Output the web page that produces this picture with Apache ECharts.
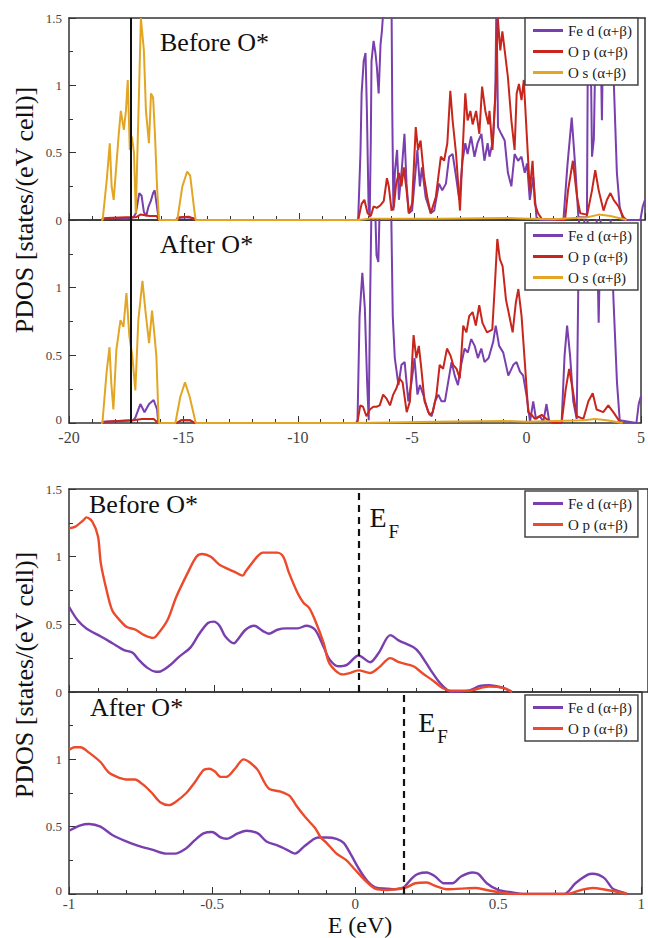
<!DOCTYPE html>
<html>
<head>
<meta charset="utf-8">
<script src="https://cdn.jsdelivr.net/npm/echarts@6.0.0/dist/echarts.min.js"></script>
<style>
html,body{margin:0;padding:0;background:#fff;}
#c{width:648px;height:938px;}
</style>
</head>
<body>
<div id="c"></div>
<script>
// ---------- DATA ----------
const topXTicks = [-20, -15, -10, -5, 0, 5];
const bottomXTicks = [-1, -0.5, 0, 0.5, 1];
const yTicks = [0, 0.5, 1, 1.5];
const refLineE = -17.3;          // vertical reference line in the top panels
const fermiE = [0, 0.175];        // E_F positions in the bottom panels (before, after)

const labelsTop = ['Fe d (α+β)', 'O p (α+β)', 'O s (α+β)'];
const labelsBottom = ['Fe d (α+β)', 'O p (α+β)'];
const panelTitles = ['Before O*', 'After O*', 'Before O*', 'After O*'];

const beforeFeD = [[-18.6,0],[-18.5,0.01],[-18.0,0.015],[-17.5,0.01],[-17.2,0.02],[-17.1,0.05],[-16.95,0.2],[-16.85,0.18],[-16.75,0.06],[-16.65,0.03],[-16.55,0.1],[-16.45,0.14],[-16.35,0.2],[-16.28,0.22],[-16.2,0.12],[-16.1,0],[-15.35,0],[-15.3,0.015],[-14.9,0.02],[-14.6,0.015],[-14.5,0],
[-7.45,0],[-7.35,0.5],[-7.3,0.94],[-7.21,1.18],[-7.13,1.24],[-7.07,0.81],[-7.0,0.12],[-6.95,0.02],[-6.9,0.6],[-6.87,1.18],[-6.78,1.33],[-6.7,1.24],[-6.64,1.14],[-6.56,0.94],[-6.48,1.3],[-6.42,1.4],[-6.34,1.6],[-6.0,1.6],[-5.97,0.81],[-5.92,0.07],[-5.85,0.37],[-5.76,0.52],[-5.68,0.15],[-5.55,0.39],[-5.44,0.64],[-5.35,0.27],[-5.25,0.05],[-5.11,0.07],[-4.98,0.32],[-4.88,0.52],[-4.77,0.25],[-4.68,0.39],[-4.52,0.17],[-4.3,0.05],[-4.15,0.07],[-3.94,0.27],[-3.8,0.22],[-3.64,0.27],[-3.5,0.47],[-3.35,0.49],[-3.2,0.32],[-3.06,0.15],[-2.92,0.44],[-2.8,0.57],[-2.7,0.49],[-2.55,0.62],[-2.4,0.47],[-2.27,0.57],[-2.1,0.64],[-1.97,0.44],[-1.83,0.57],[-1.75,0.47],[-1.6,0.59],[-1.5,0.9],[-1.45,1.6],[-1.4,1.0],[-1.38,0.69],[-1.24,0.64],[-1.09,0.59],[-0.95,0.35],[-0.8,0.25],[-0.66,0.49],[-0.51,0.44],[-0.36,0.47],[-0.22,0.35],[-0.12,0.42],[0,0.15],[0.15,0.32],[0.29,0.02],[0.44,0],[1.46,0],[1.63,0.4],[1.82,0.76],[1.97,0.4],[2.11,0.02],[2.48,0.02],[2.53,1.6],[2.62,1.6],[2.7,0.47],[2.78,0.6],[2.88,1.6],[3.05,1.6],[3.13,0.74],[3.2,1.6],[3.55,1.6],[3.65,1.0],[3.78,0.35],[3.9,0.1],[4.05,0],[4.8,0],[4.9,0.1],[5,0.15]];

const beforeOp = [[-18.6,0],[-18.4,0.015],[-17.5,0.02],[-17.1,0.02],[-16.9,0.04],[-16.5,0.03],[-16.2,0.03],[-16.1,0],[-15.35,0],[-15.2,0.02],[-14.8,0.025],[-14.5,0],
[-7.45,0],[-7.3,0.12],[-7.18,0.15],[-7.04,0.05],[-6.9,0.03],[-6.78,0.1],[-6.64,0.09],[-6.48,0.11],[-6.34,0.14],[-6.2,0.31],[-6.12,0.25],[-6.0,0.07],[-5.9,0.1],[-5.8,0.27],[-5.68,0.35],[-5.57,0.25],[-5.47,0.39],[-5.35,0.22],[-5.25,0.05],[-5.11,0.12],[-4.95,0.69],[-4.85,0.52],[-4.74,0.59],[-4.59,0.32],[-4.45,0.17],[-4.3,0.05],[-4.08,0.17],[-3.86,0.47],[-3.72,0.44],[-3.58,0.57],[-3.45,0.96],[-3.35,0.74],[-3.2,0.49],[-3.03,0.07],[-2.92,0.49],[-2.8,0.94],[-2.7,0.74],[-2.58,0.81],[-2.48,0.71],[-2.33,0.81],[-2.19,0.64],[-2.07,0.99],[-1.93,0.81],[-1.8,0.71],[-1.75,0.81],[-1.62,0.52],[-1.46,1.06],[-1.39,1.5],[-1.28,1.26],[-1.19,1.4],[-1.09,1.26],[-0.95,1.06],[-0.8,0.74],[-0.66,0.52],[-0.57,0.94],[-0.47,1.01],[-0.36,0.89],[-0.26,1.04],[-0.15,0.69],[0,0.22],[0.12,0.44],[0.22,0.12],[0.36,0.05],[0.51,0.01],[1.53,0],[1.66,0.22],[1.87,0.44],[2.05,0.17],[2.19,0.05],[2.49,0.04],[2.7,0.22],[2.84,0.37],[2.99,0.22],[3.2,0.07],[3.35,0.15],[3.5,0.2],[3.64,0.15],[3.85,0.1],[4.07,0.02],[4.2,0]];

const beforeOs = [[-18.6,0],[-18.54,0],[-18.36,0.3],[-18.23,0.57],[-18.15,0.25],[-18.06,0.15],[-17.84,0.64],[-17.75,0.81],[-17.62,0.67],[-17.53,0.81],[-17.45,1.04],[-17.36,0.52],[-17.27,0.62],[-17.18,0.5],[-17.1,0.05],[-16.97,0.89],[-16.88,1.5],[-16.75,1.26],[-16.66,0.81],[-16.53,0.57],[-16.44,0.94],[-16.35,0.91],[-16.27,0.64],[-16.18,0.25],[-16.09,0],[-15.3,0],[-15.08,0.25],[-14.87,0.36],[-14.74,0.33],[-14.56,0.07],[-14.5,0],[-7.4,0],[-7.0,0.01],[-4,0.01],[-1,0.015],[0,0.01],[1,0.005],[2.5,0.02],[3.0,0.04],[3.5,0.03],[4.0,0.01],[4.2,0]];

const afterFeD = [[-18.6,0],[-18.5,0.01],[-17.2,0.02],[-17.1,0.04],[-16.88,0.14],[-16.7,0.08],[-16.5,0.14],[-16.3,0.17],[-16.15,0.1],[-16.1,0],[-15.3,0],[-15.1,0.02],[-14.7,0.02],[-14.5,0],
[-7.45,0],[-7.39,0.02],[-7.3,0.79],[-7.18,1.11],[-7.07,0.85],[-6.97,0.3],[-6.9,0.02],[-6.85,0.79],[-6.78,1.6],[-6.62,1.6],[-6.56,1.24],[-6.48,1.19],[-6.42,1.6],[-5.92,1.6],[-5.85,0.79],[-5.76,0.48],[-5.6,0.28],[-5.47,0.43],[-5.33,0.45],[-5.17,0.16],[-5.03,0.3],[-4.9,0.48],[-4.77,0.21],[-4.66,0.28],[-4.52,0.21],[-4.3,0.08],[-4.15,0.05],[-4.0,0.16],[-3.86,0.21],[-3.72,0.16],[-3.57,0.16],[-3.43,0.3],[-3.28,0.45],[-3.14,0.35],[-3.0,0.28],[-2.86,0.43],[-2.71,0.55],[-2.57,0.52],[-2.42,0.62],[-2.27,0.57],[-2.13,0.48],[-1.98,0.55],[-1.84,0.45],[-1.66,0.48],[-1.46,0.6],[-1.35,0.72],[-1.2,0.57],[-1.02,0.52],[-0.8,0.35],[-0.58,0.43],[-0.44,0.45],[-0.29,0.38],[-0.15,0.35],[0,0.2],[0.15,0.01],[0.29,0.16],[0.41,0.03],[0.58,0.05],[0.73,0.01],[0.87,0.14],[0.99,0.01],[1.53,0],[1.66,0.5],[1.77,0.72],[1.9,0.5],[2.04,0.16],[2.19,0.03],[2.3,1.6],[2.5,1.6],[2.58,1.2],[2.7,1.6],[3.05,1.6],[3.15,0.74],[3.25,1.6],[3.65,1.6],[3.8,0.9],[3.95,0.3],[4.07,0.02],[4.8,0],[4.9,0.14],[5,0.2]];

const afterOp = [[-18.6,0],[-18.4,0.01],[-17.2,0.02],[-16.8,0.03],[-16.3,0.03],[-16.1,0],[-15.3,0],[-15.1,0.02],[-14.7,0.02],[-14.5,0],
[-7.45,0],[-7.39,0.01],[-7.27,0.13],[-7.15,0.12],[-7.0,0.05],[-6.85,0.1],[-6.7,0.12],[-6.56,0.12],[-6.42,0.13],[-6.27,0.21],[-6.12,0.18],[-5.97,0.13],[-5.83,0.21],[-5.68,0.26],[-5.56,0.33],[-5.42,0.3],[-5.24,0.08],[-5.1,0.16],[-4.94,0.65],[-4.82,0.48],[-4.71,0.57],[-4.6,0.4],[-4.46,0.16],[-4.24,0.06],[-4.1,0.08],[-3.94,0.21],[-3.8,0.43],[-3.65,0.4],[-3.48,0.55],[-3.33,0.5],[-3.21,0.43],[-3.06,0.4],[-2.92,0.33],[-2.77,0.72],[-2.63,0.67],[-2.51,0.79],[-2.36,0.82],[-2.22,0.72],[-2.07,0.87],[-1.93,0.74],[-1.79,0.69],[-1.73,0.67],[-1.5,0.69],[-1.38,1.04],[-1.28,1.36],[-1.17,1.21],[-1.05,1.16],[-0.9,0.91],[-0.73,0.77],[-0.61,0.67],[-0.47,0.89],[-0.36,0.99],[-0.22,0.79],[-0.07,0.43],[0.07,0.08],[0.22,0.06],[0.36,0.03],[0.66,0.06],[0.87,0.03],[1.16,0],[1.53,0],[1.71,0.25],[1.86,0.4],[2.04,0.22],[2.19,0.05],[2.48,0.03],[2.7,0.16],[2.89,0.22],[3.06,0.1],[3.35,0.08],[3.57,0.13],[3.79,0.08],[4.07,0.01],[4.2,0]];

const afterOs = [[-18.6,0],[-18.54,0],[-18.36,0.37],[-18.23,0.56],[-18.15,0.29],[-18.06,0.1],[-17.93,0.54],[-17.75,0.76],[-17.62,0.71],[-17.49,0.96],[-17.36,0.64],[-17.23,0.49],[-17.1,0.24],[-16.97,0.76],[-16.79,1.05],[-16.66,0.83],[-16.5,0.59],[-16.37,0.83],[-16.27,0.66],[-16.18,0.49],[-16.08,0],[-15.35,0],[-15.14,0.19],[-14.93,0.3],[-14.72,0.19],[-14.46,0],[-7.4,0],[-4,0.01],[-1,0.015],[0,0.01],[2.5,0.02],[3.0,0.03],[3.5,0.02],[4.2,0]];

const zoomBeforeFeD = [[-1.0,0.63],[-0.97,0.53],[-0.94,0.47],[-0.89,0.41],[-0.85,0.36],[-0.81,0.31],[-0.78,0.29],[-0.76,0.24],[-0.73,0.18],[-0.7,0.15],[-0.69,0.15],[-0.65,0.2],[-0.62,0.26],[-0.58,0.33],[-0.55,0.43],[-0.52,0.51],[-0.5,0.52],[-0.48,0.49],[-0.46,0.41],[-0.43,0.36],[-0.42,0.38],[-0.39,0.46],[-0.36,0.49],[-0.33,0.45],[-0.31,0.43],[-0.28,0.46],[-0.25,0.47],[-0.21,0.47],[-0.18,0.49],[-0.15,0.46],[-0.12,0.33],[-0.1,0.24],[-0.07,0.19],[-0.04,0.2],[0,0.27],[0.04,0.22],[0.07,0.29],[0.11,0.42],[0.14,0.38],[0.19,0.33],[0.21,0.29],[0.25,0.16],[0.28,0.07],[0.31,0.01],[0.33,0],[0.38,0.01],[0.42,0.045],[0.45,0.05],[0.5,0.03],[0.53,0]];

const zoomBeforeOp = [[-1.0,1.21],[-0.98,1.22],[-0.95,1.27],[-0.94,1.29],[-0.92,1.26],[-0.9,1.15],[-0.89,0.95],[-0.87,0.75],[-0.85,0.6],[-0.82,0.52],[-0.8,0.48],[-0.77,0.46],[-0.74,0.42],[-0.71,0.4],[-0.7,0.41],[-0.66,0.53],[-0.63,0.7],[-0.59,0.88],[-0.56,1.0],[-0.54,1.02],[-0.51,1.0],[-0.48,0.94],[-0.43,0.89],[-0.4,0.86],[-0.39,0.89],[-0.35,1.0],[-0.33,1.03],[-0.28,1.03],[-0.26,1.0],[-0.24,0.88],[-0.21,0.73],[-0.19,0.66],[-0.17,0.62],[-0.15,0.53],[-0.12,0.36],[-0.1,0.21],[-0.055,0.13],[-0.03,0.14],[0,0.16],[0.04,0.14],[0.07,0.18],[0.11,0.25],[0.14,0.22],[0.19,0.19],[0.22,0.14],[0.26,0.08],[0.29,0.03],[0.32,0.01],[0.38,0.01],[0.45,0.04],[0.5,0.03],[0.53,0]];

const zoomAfterFeD = [[-1.0,0.47],[-0.96,0.51],[-0.93,0.52],[-0.89,0.5],[-0.85,0.44],[-0.8,0.39],[-0.76,0.36],[-0.71,0.33],[-0.66,0.3],[-0.63,0.3],[-0.59,0.34],[-0.56,0.4],[-0.53,0.45],[-0.5,0.46],[-0.47,0.42],[-0.45,0.41],[-0.41,0.45],[-0.38,0.47],[-0.34,0.45],[-0.31,0.39],[-0.27,0.36],[-0.24,0.33],[-0.21,0.3],[-0.18,0.35],[-0.15,0.4],[-0.13,0.42],[-0.1,0.42],[-0.065,0.41],[-0.04,0.38],[-0.014,0.29],[0.015,0.18],[0.045,0.09],[0.07,0.05],[0.11,0.04],[0.14,0.035],[0.17,0.05],[0.2,0.12],[0.22,0.15],[0.25,0.16],[0.28,0.13],[0.31,0.08],[0.34,0.08],[0.37,0.13],[0.41,0.16],[0.43,0.15],[0.46,0.08],[0.5,0.03],[0.54,0.015],[0.59,0],[0.73,0],[0.77,0.08],[0.81,0.14],[0.83,0.15],[0.87,0.12],[0.9,0.04],[0.93,0.015],[0.95,0]];

const zoomAfterOp = [[-1.0,1.07],[-0.98,1.09],[-0.96,1.09],[-0.93,1.05],[-0.89,0.98],[-0.86,0.9],[-0.82,0.86],[-0.8,0.85],[-0.77,0.85],[-0.74,0.81],[-0.71,0.75],[-0.68,0.68],[-0.65,0.66],[-0.63,0.68],[-0.59,0.75],[-0.56,0.83],[-0.53,0.92],[-0.51,0.93],[-0.49,0.91],[-0.47,0.87],[-0.45,0.87],[-0.42,0.93],[-0.39,1.0],[-0.37,0.98],[-0.34,0.92],[-0.32,0.84],[-0.3,0.78],[-0.26,0.76],[-0.23,0.73],[-0.2,0.64],[-0.17,0.56],[-0.14,0.49],[-0.12,0.42],[-0.1,0.38],[-0.065,0.3],[-0.03,0.25],[0,0.18],[0.04,0.09],[0.07,0.04],[0.11,0.03],[0.14,0.035],[0.18,0.05],[0.21,0.08],[0.25,0.085],[0.28,0.06],[0.32,0.035],[0.37,0.04],[0.42,0.045],[0.46,0.03],[0.51,0.01],[0.55,0],[0.74,0],[0.79,0.03],[0.83,0.045],[0.88,0.03],[0.92,0.015],[0.95,0]];

// ---------- STYLE ----------
const SERIF = '"Liberation Serif", "DejaVu Serif", serif';
const C_FE = '#7a3fae';
const C_OP_TOP = '#c8261c';
const C_OS = '#e3a624';
const C_OP_BOT = '#ec4a2a';
const AXC = '#333333';

const chart = echarts.init(document.getElementById('c'), null, {renderer: 'svg', width: 648, height: 938});

const grids = [
  {left: 69, top: 18, width: 576, height: 202},
  {left: 69, top: 220, width: 576, height: 203},
  {left: 69, top: 489, width: 579, height: 203},
  {left: 69, top: 692, width: 579, height: 202}
];

const hiddenSplit = {lineStyle: {color: 'rgba(0,0,0,0)', opacity: 0}};

function xAxis(i, isTop, showLabel) {
  const ticks = isTop ? topXTicks : bottomXTicks;
  return {
    type: 'value', gridIndex: i,
    min: ticks[0], max: ticks[ticks.length - 1], interval: ticks[1] - ticks[0],
    axisLine: {show: true, onZero: false, lineStyle: {color: AXC, width: 1.5}},
    axisTick: {show: true, inside: true, length: 7, lineStyle: {color: AXC, width: 1}},
    minorTick: {show: true, splitNumber: 5, length: 4, lineStyle: {color: AXC, width: 1}},
    splitLine: hiddenSplit,
    axisLabel: {show: showLabel, fontFamily: SERIF, fontSize: isTop ? 16 : 15, color: '#444', margin: isTop ? 6 : 2}
  };
}
function frameAxisX(i, isTop) {
  const ticks = isTop ? topXTicks : bottomXTicks;
  return {
    type: 'value', gridIndex: i, position: 'top', min: ticks[0], max: ticks[ticks.length - 1],
    axisLine: {show: true, onZero: false, lineStyle: {color: AXC, width: 1.5}},
    axisTick: {show: false}, axisLabel: {show: false}, splitLine: {show: false}
  };
}
function yAxis(i, showMax) {
  return {
    type: 'value', gridIndex: i, min: yTicks[0], max: yTicks[yTicks.length - 1], interval: 0.5,
    axisLine: {show: true, onZero: false, lineStyle: {color: AXC, width: 1.5}},
    axisTick: {show: true, inside: true, length: 7, lineStyle: {color: AXC, width: 1}},
    minorTick: {show: true, splitNumber: 2, length: 4, lineStyle: {color: AXC, width: 1}},
    splitLine: hiddenSplit,
    axisLabel: {
      fontFamily: SERIF, fontSize: 13, color: '#444', margin: 7,
      formatter: v => (!showMax && v === 1.5) ? '' : ((!showMax && v === 0) ? '{lo|0}' : String(v)),
      rich: {lo: {fontFamily: SERIF, fontSize: 13, color: '#444', padding: [0, 0, 7, 0]}}
    }
  };
}
function frameAxisY(i) {
  return {
    type: 'value', gridIndex: i, position: 'right', min: yTicks[0], max: yTicks[yTicks.length - 1],
    axisLine: {show: true, onZero: false, lineStyle: {color: AXC, width: 1.5}},
    axisTick: {show: false}, axisLabel: {show: false}, splitLine: {show: false}
  };
}

function line(name, idx, data, color, width, smooth, markLine) {
  const s = {
    name: name, type: 'line', xAxisIndex: idx, yAxisIndex: idx, data: data,
    showSymbol: false, symbol: 'none', smooth: smooth, color: color,
    lineStyle: {color: color, width: width}, clip: true, silent: true
  };
  if (markLine) s.markLine = markLine;
  return s;
}
function vLine(x, dashed) {
  return {
    silent: true, symbol: ['none', 'none'], label: {show: false},
    lineStyle: {color: '#111', width: dashed ? 2.2 : 2, type: dashed ? [7, 5] : 'solid'},
    data: [{xAxis: x}]
  };
}

const names = {
  fe1: labelsTop[0], op1: labelsTop[1], os1: labelsTop[2],
  fe2: labelsTop[0], op2: labelsTop[1], os2: labelsTop[2],
  fe3: labelsBottom[0], op3: labelsBottom[1],
  fe4: labelsBottom[0], op4: labelsBottom[1]
};
function legend(top, data) {
  return {
    orient: 'vertical', left: 525, top: top, padding: [5, 6, 5, 8], itemGap: 6,
    itemWidth: 30, itemHeight: 3, icon: 'rect',
    borderColor: '#444', borderWidth: 1.5, backgroundColor: '#fff', borderRadius: 0,
    textStyle: {fontFamily: SERIF, fontSize: 15, color: '#222'},
    data: data, formatter: n => names[n], selectedMode: false, z: 10
  };
}

function txt(text, x, y, size, opts) {
  return Object.assign({
    type: 'text', x: x, y: y, silent: true, z: 20,
    style: Object.assign({
      text: text, font: size + 'px ' + SERIF, fill: '#111',
      textAlign: 'left', textVerticalAlign: 'middle', align: 'left', verticalAlign: 'middle'
    }, (opts && opts.style) || {})
  }, (opts && opts.el) || {});
}
// x position of the E_F annotation, from the same linear axis extent as the bottom grids
function bottomX(g, e) {
  return g.left + (e - bottomXTicks[0]) / (bottomXTicks[bottomXTicks.length - 1] - bottomXTicks[0]) * g.width;
}
const ef3 = bottomX(grids[2], fermiE[0]);
const ef4 = bottomX(grids[3], fermiE[1]);
const center = {style: {textAlign: 'center', align: 'center'}};
const rotated = {style: {textAlign: 'center', align: 'center'}, el: {rotation: Math.PI / 2}};

const option = {
  animation: false,
  grid: grids,
  xAxis: [xAxis(0, true, false), xAxis(1, true, true), xAxis(2, false, false), xAxis(3, false, true),
          frameAxisX(0, true), frameAxisX(1, true), frameAxisX(2, false), frameAxisX(3, false)],
  yAxis: [yAxis(0, true), yAxis(1, false), yAxis(2, true), yAxis(3, false),
          frameAxisY(0), frameAxisY(1), frameAxisY(2), frameAxisY(3)],
  legend: [
    legend(18, ['fe1', 'op1', 'os1']),
    legend(223, ['fe2', 'op2', 'os2']),
    legend(491, ['fe3', 'op3']),
    legend(695, ['fe4', 'op4'])
  ],
  graphic: [
    txt(panelTitles[0], 160, 42, 26),
    txt(panelTitles[1], 160, 244, 26),
    txt(panelTitles[2], 89, 504, 26),
    txt(panelTitles[3], 90, 707, 26),
    txt('E', ef3 + 11, 517, 28),
    txt('F', ef3 + 30, 531, 19),
    txt('E', ef4 + 9, 722, 28),
    txt('F', ef4 + 28, 736, 19),
    txt('PDOS [states/(eV cell)]', 24, 210, 26, rotated),
    txt('PDOS [states/(eV cell)]', 24, 675, 26, rotated),
    txt('E (eV)', 360, 925, 24, center)
  ],
  series: [
    line('fe1', 0, beforeFeD, C_FE, 2, false, vLine(refLineE, false)),
    line('op1', 0, beforeOp, C_OP_TOP, 2, false),
    line('os1', 0, beforeOs, C_OS, 2, false),
    line('fe2', 1, afterFeD, C_FE, 2, false, vLine(refLineE, false)),
    line('op2', 1, afterOp, C_OP_TOP, 2, false),
    line('os2', 1, afterOs, C_OS, 2, false),
    line('fe3', 2, zoomBeforeFeD, C_FE, 2.4, 0.3, vLine(fermiE[0], true)),
    line('op3', 2, zoomBeforeOp, C_OP_BOT, 2.4, 0.3),
    line('fe4', 3, zoomAfterFeD, C_FE, 2.4, 0.3, vLine(fermiE[1], true)),
    line('op4', 3, zoomAfterOp, C_OP_BOT, 2.4, 0.3)
  ]
};
chart.setOption(option);
</script>
</body>
</html>
